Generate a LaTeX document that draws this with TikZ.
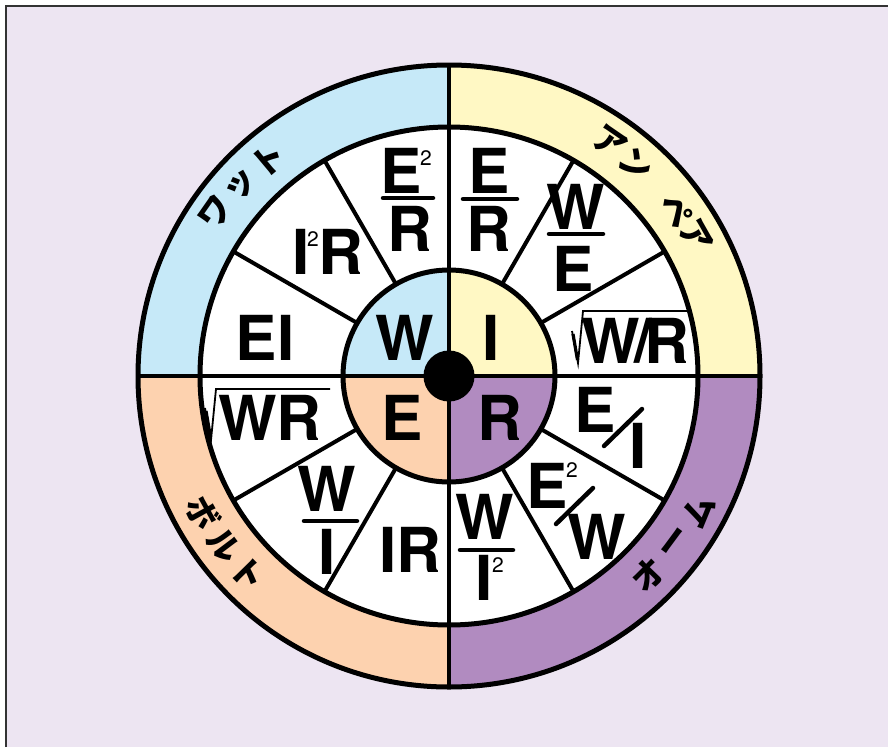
\documentclass[tikz,border=0pt]{standalone}
\usepackage{fontspec}
\setmainfont{TeX Gyre Heros}
\newfontfamily\jp{Noto Sans CJK JP}
\definecolor{bg}{RGB}{237,229,242}
\definecolor{cW}{RGB}{198,233,248}
\definecolor{cI}{RGB}{255,248,196}
\definecolor{cE}{RGB}{253,210,175}
\definecolor{cR}{RGB}{177,139,192}
\tikzset{
  big/.style={font=\fontsize{62}{62}\selectfont\bfseries, inner sep=0pt},
  supnum/.style={font=\fontsize{21}{21}\selectfont, inner sep=0pt},
  fbar/.style={line width=4.5pt, line cap=round},
  radl/.style={line width=1.8pt, line join=miter},
  radd/.style={line width=3.2pt},
  jpc/.style={font=\jp\bfseries\fontsize{33}{33}\selectfont, inner sep=0pt},
  thick4/.style={line width=5pt},
  spoke/.style={line width=4pt},
}
\begin{document}
\begin{tikzpicture}[x=1pt,y=-1pt]
\useasboundingbox (0,0) rectangle (888,747);
\fill[white] (0,0) rectangle (888,747);
\fill[bg] (6,6) rectangle (888,747);
\draw[line width=1.6pt, black!80] (6,747) -- (6,6) -- (888,6);
\begin{scope}[shift={(449,376)}, y=1pt]
  \fill[cI] (0,0) -- (0:311) arc[start angle=0,end angle=90,radius=311] -- cycle;
  \fill[cW] (0,0) -- (90:311) arc[start angle=90,end angle=180,radius=311] -- cycle;
  \fill[cE] (0,0) -- (180:311) arc[start angle=180,end angle=270,radius=311] -- cycle;
  \fill[cR] (0,0) -- (270:311) arc[start angle=270,end angle=360,radius=311] -- cycle;
  \fill[white] (0,0) circle[radius=249];
  \fill[cI] (0,0) -- (0:106) arc[start angle=0,end angle=90,radius=106] -- cycle;
  \fill[cW] (0,0) -- (90:106) arc[start angle=90,end angle=180,radius=106] -- cycle;
  \fill[cE] (0,0) -- (180:106) arc[start angle=180,end angle=270,radius=106] -- cycle;
  \fill[cR] (0,0) -- (270:106) arc[start angle=270,end angle=360,radius=106] -- cycle;
  \foreach \a in {30,60,120,150,210,240,300,330}
    \draw[spoke] (\a:106) -- (\a:249);
  \draw[spoke] (0,311) -- (0,-311);
  \draw[spoke] (-311,0) -- (311,0);
  \draw[thick4] (0,0) circle[radius=311];
  \draw[thick4] (0,0) circle[radius=249];
  \draw[thick4] (0,0) circle[radius=106];
  \fill[black] (0,0) circle[radius=25.5];
  % Japanese labels
  \node[jpc, rotate=55] (wa1) at (145:285) {ワ};
  \node[jpc, rotate=47.5] (wa2) at (137.5:281) {ッ};
  \node[jpc, rotate=40] (wa3) at (130:282) {ト};
  \node[jpc, rotate=-34.5] (am1) at (55.5:284) {ア};
  \node[jpc, rotate=-41.5] (am2) at (48.5:282) {ン};
  \node[jpc, rotate=-54] (am3) at (36:281) {ペ};
  \node[jpc, rotate=-60.5] (am4) at (29.5:283) {ア};
  \node[jpc, rotate=-61] (vo1) at (209:282) {ボ};
  \node[jpc, rotate=-53] (vo2) at (217:282) {ル};
  \node[jpc, rotate=-45.5] (vo3) at (224.5:282) {ト};
  \node[jpc, rotate=45] (oh1) at (315:282) {オ};
  \node[jpc, rotate=53.5] (oh2) at (323.5:282) {ー};
  \node[jpc, rotate=61.5] (oh3) at (331.5:284) {ム};
\end{scope}
% center letters
\node[big] (cw) at (405,338) {W};
\node[big] (ci) at (491,338) {I};
\node[big] (ce) at (402,418) {E};
\node[big] (cr) at (500,418) {R};
% top-left
\node[big] (f1n) at (401,171) {E};
\node[supnum] (f1s) at (426,158) {2};
\draw[fbar] (383,198) -- (433,198);
\node[big] (f1d) at (410,229) {R};
\node[big] (f2a) at (301,252) {I};
\node[supnum] (f2s) at (313,239) {2};
\node[big] (f2b) at (341,252) {R};
\node[big] (f3) at (265,338) {EI};
% top-right
\node[big] (f4n) at (489,171) {E};
\draw[fbar] (463,199) -- (517,199);
\node[big] (f4d) at (489,229) {R};
\node[big] (f5n) at (576,207) {W};
\draw[fbar] (549,234) -- (603,234);
\node[big] (f5d) at (573,269) {E};
\node[big] (f6a) at (611,341) {W};
\node[big] (f6b) at (643,341) {/};
\node[big] (f6c) at (667,341) {R};
\draw[radl] (572,331) -- (578,363) -- (583,311) -- (691,311);
\draw[radd] (573,334) -- (577.5,360);
% bottom-left
\node[big] (f7) at (270,418) {WR};
\draw[radl] (205,408) -- (211,440) -- (216,389) -- (330,389);
\draw[radd] (206,411) -- (210.5,437);
\node[big] (f8n) at (327,489) {W};
\draw[fbar] (304,521) -- (357,521);
\node[big] (f8d) at (327,552) {I};
\node[big] (f9) at (410,550) {IR};
% bottom-right
\node[big] (f10n) at (485,517) {W};
\draw[fbar] (460,550) -- (513,550);
\node[big] (f10d) at (484,578) {I};
\node[supnum] (f10s) at (498,565) {2};
\node[big] (f11n) at (547,486) {E};
\node[supnum] (f11s) at (572,470) {2};
\draw[fbar] (556,524) -- (593,488);
\node[big] (f11d) at (597,537) {W};
\node[big] (f12n) at (595,410) {E};
\draw[fbar] (604,446) -- (642,409);
\node[big] (f12d) at (638,446) {I};
\end{tikzpicture}
\end{document}
